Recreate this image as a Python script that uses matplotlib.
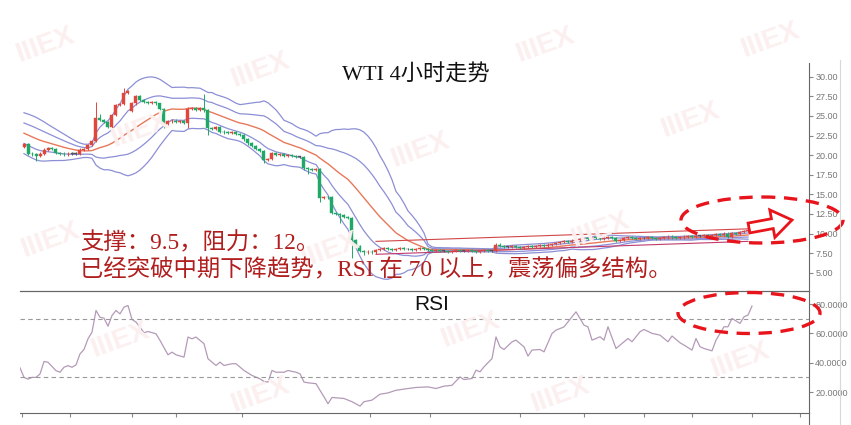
import numpy as np
import pandas as pd
import matplotlib
matplotlib.use('Agg')
import matplotlib.pyplot as plt
from matplotlib.patches import Ellipse, FancyArrow

plt.rcParams['font.family'] = ['Liberation Sans', 'Noto Sans CJK SC', 'DejaVu Sans']

# 4小时K线
prior_closes = [24.8, 24.6, 24.5, 24.3, 24.0, 23.9, 23.6, 23.5, 23.2, 23.0,
                22.8, 22.5, 22.3, 21.9, 21.6, 21.3, 21.0, 20.8, 20.9]
opens = [21.0, 21.4, 20.2, 20.1, 19.9, 20.2, 20.7, 20.9, 20.8, 20.3,
         20.2, 20.1, 20.2, 20.2, 20.2, 20.7, 20.8, 21.3, 21.8, 24.7,
         24.5, 24.2, 23.6, 25.1, 26.4, 26.5, 27.9, 25.6, 26.6, 27.5,
         27.0, 26.8, 26.7, 26.8, 26.6, 25.9, 24.0, 24.3, 24.4, 24.2,
         24.3, 24.1, 25.9, 26.0, 25.8, 26.0, 25.7, 23.4, 23.3, 23.6,
         23.0, 22.9, 22.8, 22.9, 22.7, 22.6, 22.0, 21.5, 21.2, 20.8,
         20.5, 19.4, 19.5, 20.3, 20.0, 20.1, 19.9, 20.0, 19.9, 19.8,
         19.8, 18.3, 18.2, 18.1, 18.2, 14.5, 14.7, 14.6, 12.6, 12.5,
         12.4, 12.1, 12.0, 9.2, 8.4, 7.8, 7.6, 7.7, 7.6, 7.9,
         8.0, 8.1, 8.0, 7.9, 8.0, 8.1, 8.0, 8.0, 7.9, 8.0,
         8.1, 8.0, 7.9, 7.8, 7.9, 7.8, 7.8, 7.7, 7.8, 7.9,
         7.8, 7.8, 7.9, 7.8, 7.7, 7.8, 7.9, 7.8, 7.8, 8.6,
         8.4, 8.3, 8.3, 8.4, 8.3, 8.2, 8.3, 8.4, 8.3, 8.4,
         8.5, 8.4, 8.6, 8.7, 8.8, 8.9, 9.0, 8.9, 9.1, 9.2,
         9.3, 9.4, 9.3, 9.5, 9.4, 9.3, 9.4, 9.5, 9.4, 9.1,
         9.2, 9.4, 9.5, 9.4, 9.3, 9.4, 9.4, 9.5, 9.4, 9.3,
         9.4, 9.5, 9.6, 9.5, 9.4, 9.5, 9.6, 9.7, 9.6, 9.7,
         9.7, 9.8, 9.7, 9.8, 9.9, 9.8, 10.0, 9.6, 10.1, 10.0,
         10.2, 10.3]
closes = [21.4, 20.2, 20.1, 19.9, 20.2, 20.7, 20.9, 20.8, 20.3, 20.2,
          20.1, 20.2, 20.2, 20.2, 20.7, 20.8, 21.3, 21.8, 24.7, 24.5,
          24.2, 23.6, 25.1, 26.4, 26.5, 27.9, 28.2, 26.6, 27.5, 27.0,
          26.8, 26.7, 26.8, 26.6, 25.9, 24.0, 24.3, 24.4, 24.2, 24.3,
          24.1, 25.9, 26.0, 25.8, 26.0, 25.7, 23.4, 23.3, 23.6, 23.0,
          22.9, 22.8, 22.9, 22.7, 22.6, 22.0, 21.5, 21.2, 20.8, 20.5,
          19.4, 19.5, 20.3, 20.0, 20.1, 19.9, 20.0, 19.9, 19.8, 19.8,
          18.3, 18.2, 18.1, 18.2, 14.5, 14.7, 14.6, 12.6, 12.5, 12.4,
          12.1, 12.0, 9.2, 8.4, 7.8, 7.6, 7.7, 7.6, 7.9, 8.0,
          8.1, 8.0, 7.9, 8.0, 8.1, 8.0, 8.0, 7.9, 8.0, 8.1,
          8.0, 7.9, 7.8, 7.9, 7.8, 7.8, 7.7, 7.8, 7.9, 7.8,
          7.8, 7.9, 7.8, 7.7, 7.8, 7.9, 7.8, 7.8, 8.6, 8.4,
          8.3, 8.3, 8.4, 8.3, 8.2, 8.3, 8.4, 8.3, 8.4, 8.5,
          8.4, 8.6, 8.7, 8.8, 8.9, 9.0, 8.9, 9.1, 9.2, 9.3,
          9.4, 9.3, 9.5, 9.4, 9.3, 9.4, 9.5, 9.4, 9.1, 9.2,
          9.4, 9.5, 9.4, 9.3, 9.4, 9.4, 9.5, 9.4, 9.3, 9.4,
          9.5, 9.6, 9.5, 9.4, 9.5, 9.6, 9.7, 9.6, 9.7, 9.7,
          9.8, 9.7, 9.8, 9.9, 9.8, 10.0, 9.6, 10.1, 10.0, 10.2,
          10.3, 10.4]
wick_highs = {18: 26.8, 19: 25.3, 25: 28.6, 34: 26.7, 45: 27.8, 41: 26.2}
wick_lows = {3: 19.2, 35: 23.5, 41: 23.5, 46: 22.6, 60: 19.0, 71: 17.6,
             74: 14.0, 79: 11.4, 82: 6.9, 85: 7.2}

channel_bars = [88, 181]
channel_top = [9.0, 10.6]
channel_bot = [7.35, 9.0]

rsi_bars = [-1, 0, 1, 2, 3, 4, 5, 6, 8, 9,
            10, 11, 12, 13, 14, 15, 16, 17, 18, 19,
            20, 21, 22, 23, 24, 25, 26, 27, 28, 29,
            30, 31, 33, 34, 36, 37, 38, 40, 41, 42,
            43, 44, 45, 46, 48, 49, 50, 52, 53, 54,
            55, 57, 59, 60, 61, 62, 63, 65, 66, 68,
            69, 70, 71, 73, 75, 76, 77, 80, 82, 84,
            85, 87, 89, 91, 93, 96, 98, 101, 103, 105,
            107, 109, 110, 112, 113, 114, 115, 117, 118, 119,
            120, 122, 123, 125, 126, 127, 129, 130, 132, 133,
            135, 136, 137, 138, 140, 141, 142, 143, 144, 145,
            146, 148, 151, 152, 154, 155, 157, 159, 161, 162,
            164, 165, 167, 168, 169, 170, 172, 173, 175, 176,
            177, 179, 180, 181, 182]
rsi_vals = [36.5, 30, 28.8, 30, 30, 32.3, 40.8, 40.3, 34.6, 33.5,
            36.9, 38, 36.9, 38.5, 46, 49, 56.3, 60.8, 75.6, 71,
            70.4, 64.9, 72.2, 75.6, 73.3, 77.9, 79, 69.5, 67.7, 64.3,
            60.4, 61.3, 59.7, 55.2, 45.4, 47.2, 45.4, 43.8, 57.5, 56.3,
            57.5, 55.2, 53, 42.7, 38.1, 40.4, 38.1, 39.3, 39.3, 37,
            34.7, 31.3, 29, 27.2, 26.8, 34.7, 33.5, 33.5, 34.7, 33.5,
            32.4, 26.8, 26.3, 25.7, 16.7, 12, 16.3, 15.6, 13.4, 10.4,
            13.4, 14.5, 18.5, 19.4, 21.2, 22.4, 23.1, 23.5, 22.4, 24,
            24.6, 30.3, 28.5, 29.2, 34.9, 33.8, 37.2, 42.8, 57.6, 50.8,
            49, 54.2, 55.4, 50.8, 44.5, 48.6, 49, 47.4, 59.9, 62.2,
            64.4, 67.9, 71.3, 74.7, 65.6, 64.4, 55.4, 56.5, 57.7, 55.4,
            64.5, 49.7, 56.5, 54.3, 61.1, 62.7, 60, 58.8, 54.3, 58.2,
            53.6, 52, 48.6, 56.5, 50.9, 49.7, 48.1, 55.4, 64.5, 64.5,
            70.2, 66.8, 71.3, 72.5, 78.6]

day_ticks = [-0.5, 11.5, 27, 38, 54.5, 86.5, 101.5, 124, 140, 155, 167, 182, 194]
price_ticks = [5, 7.5, 10, 12.5, 15, 17.5, 20, 22.5, 25, 27.5, 30]
rsi_ticks = [20, 40, 60, 80]

o = np.array(opens)
c = np.array(closes)
n = len(c)
x = np.arange(n)

# 布林带（20, 1倍/2倍标准差）
s = pd.Series(prior_closes + closes)
mid = s.rolling(20).mean().values[-n:]
sd = s.rolling(20).std(ddof=0).values[-n:]

fig = plt.figure(figsize=(8.51, 4.25), dpi=100)
ax = fig.add_axes([20 / 851, 134 / 425, 789 / 851, 228 / 425])
ax2 = fig.add_axes([20 / 851, 12 / 425, 789 / 851, 122 / 425])

red = '#e0463c'
green = '#1fa868'
cols = np.where(c > o, red, np.where(c < o, green, '#555555'))
top = np.maximum(o, c)
bot = np.minimum(o, c)
hi = np.array([wick_highs.get(i, top[i] + 0.15) for i in range(n)])
lo = np.array([wick_lows.get(i, bot[i] - 0.15) for i in range(n)])

ax.plot(x, mid + 2 * sd, color='#8c8fd6', lw=0.9, zorder=2)
ax.plot(x, mid + sd, color='#8c8fd6', lw=0.9, zorder=2)
ax.plot(x, mid, color='#e8785a', lw=1.0, zorder=2)
ax.plot(x, mid - sd, color='#8c8fd6', lw=0.9, zorder=2)
ax.plot(x, mid - 2 * sd, color='#8c8fd6', lw=0.9, zorder=2)
ax.plot(channel_bars, channel_top, color='#d04848', lw=0.8, zorder=2)
ax.plot(channel_bars, channel_bot, color='#c03a6a', lw=0.8, zorder=2)

ax.vlines(x, lo, hi, colors=cols, lw=0.7, zorder=3)
ax.bar(x, np.maximum(top - bot, 0.08), bottom=bot, width=0.75,
       color=cols, edgecolor=cols, lw=0.3, zorder=4)

ax.set_xlim(-1, -1 + 789 / 4)
ax.set_ylim(2.67, 31.75)
ax.yaxis.tick_right()
ax.set_yticks(price_ticks)
ax.set_yticklabels(['%.2f' % t for t in price_ticks])
ax.tick_params(axis='y', direction='out', length=3, color='#888888',
               labelsize=6.5, labelcolor='#777777', pad=1.5)
ax.set_xticks([])
for k in ['top', 'left']:
    ax.spines[k].set_visible(False)
for k in ['right', 'bottom']:
    ax.spines[k].set_color('#666666')
    ax.spines[k].set_linewidth(0.8)
ax.patch.set_alpha(0)

# RSI
ax2.plot(rsi_bars, rsi_vals, color='#b49ab8', lw=0.9)
ax2.axhline(70, color='#999999', lw=0.8, ls=(0, (4, 3)))
ax2.axhline(30, color='#999999', lw=0.8, ls=(0, (4, 3)))
ax2.set_xlim(-1, -1 + 789 / 4)
ax2.set_ylim(5.7, 88.9)
ax2.yaxis.tick_right()
ax2.set_yticks(rsi_ticks)
ax2.set_yticklabels(['%.4f' % t for t in rsi_ticks])
ax2.tick_params(axis='y', direction='out', length=3, color='#888888',
                labelsize=6.5, labelcolor='#777777', pad=1.5)
ax2.set_xticks(day_ticks)
ax2.set_xticklabels([])
ax2.tick_params(axis='x', direction='out', length=3, color='#888888')
ax2.spines['left'].set_visible(False)
for k in ['right', 'bottom', 'top']:
    ax2.spines[k].set_color('#666666')
    ax2.spines[k].set_linewidth(0.8)
ax2.patch.set_alpha(0)

# 标注层（像素坐标）
ov = fig.add_axes([0, 0, 1, 1], zorder=10)
ov.set_xlim(0, 851)
ov.set_ylim(425, 0)
ov.axis('off')
ov.patch.set_alpha(0)

for wx, wy in [(45, 45), (260, 70), (545, 45), (770, 40), (140, 130), (420, 150),
               (690, 120), (50, 240), (330, 250), (600, 230), (120, 340),
               (470, 330), (740, 360), (260, 395), (560, 395)]:
    ov.text(wx, wy, 'IIIEX', color='#fcefef', fontsize=20, fontweight='bold',
            rotation=20, ha='center', va='center', zorder=0)

ov.plot([809, 809], [413, 425], color='#666666', lw=0.8)
ov.plot([840, 840], [60, 425], color='#d8d8d8', lw=0.8)

ov.text(416, 75, 'WTI 4小时走势', fontsize=16, ha='center', va='center',
        family=['Liberation Serif', 'Noto Sans CJK SC'], color='#111111')
ov.text(432, 305, 'RSI', fontsize=15, ha='center', va='center', color='#111111')
ov.text(80, 243, '支撑：9.5，阻力：12。', fontsize=16.8, ha='left', va='center',
        family=['Liberation Serif', 'Noto Sans CJK SC'], color='#b01e1e')
ov.text(80, 270, '已经突破中期下降趋势，RSI 在 70 以上，震荡偏多结构。', fontsize=16.8,
        ha='left', va='center', family=['Liberation Serif', 'Noto Sans CJK SC'],
        color='#b01e1e')

ov.add_patch(Ellipse((762, 220), 162, 46, fill=False, ec='#e8141c', lw=2.4,
                     ls=(0, (4, 2.6))))
ov.add_patch(Ellipse((749, 313), 142, 41, fill=False, ec='#e8141c', lw=2.4,
                     ls=(0, (4, 2.6))))
ov.add_patch(FancyArrow(749, 228, 43, -8, width=10, head_width=28, head_length=20,
                        length_includes_head=True, fc='white', ec='#e8141c', lw=2))

fig.savefig('out.png', dpi=100)
